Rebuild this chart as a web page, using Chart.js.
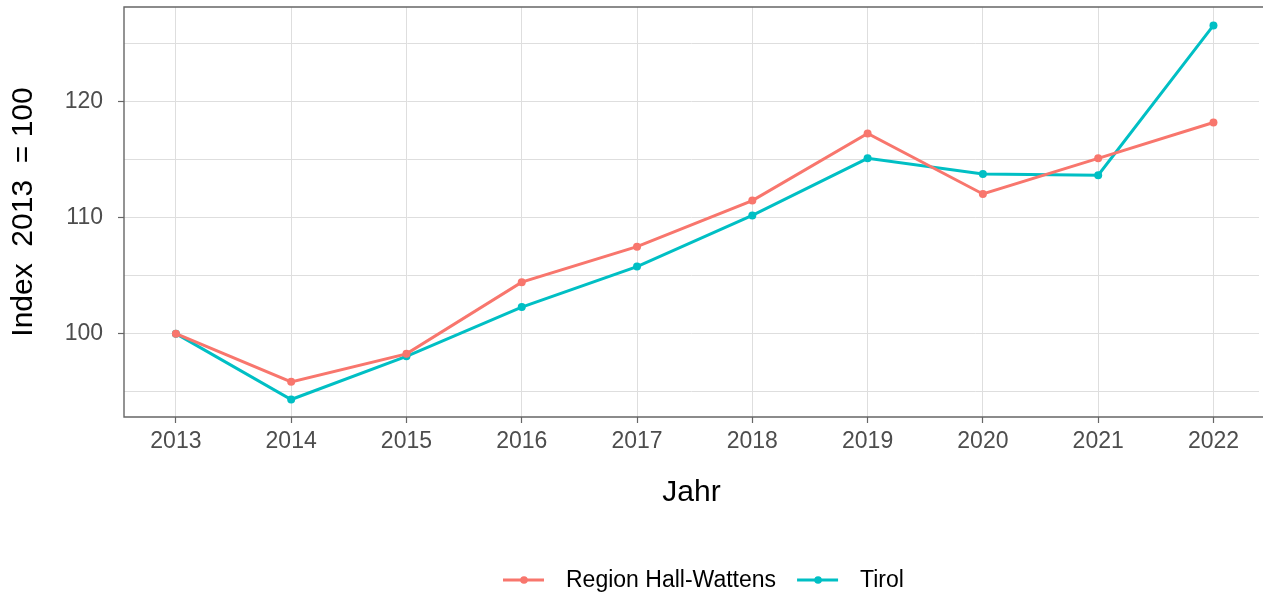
<!DOCTYPE html>
<html>
<head>
<meta charset="utf-8">
<script src="https://cdn.jsdelivr.net/npm/chart.js@4"></script>
<style>
html,body{margin:0;padding:0;background:#fff;}
canvas{display:block;}
</style>
</head>
<body>
<canvas id="c" width="1263" height="596"></canvas>
<script>
const years = [2013, 2014, 2015, 2016, 2017, 2018, 2019, 2020, 2021, 2022];
const hallWattens = [100, 95.85, 98.26, 104.44, 107.5, 111.47, 117.26, 112.04, 115.11, 118.2];
const tirol = [100, 94.33, 98.05, 102.29, 105.78, 110.19, 115.11, 113.76, 113.65, 126.56];
const yTicks = [95, 100, 105, 110, 115, 120, 125];
const yLabels = [100, 110, 120];
const seriesNames = ['Region Hall-Wattens', 'Tirol'];
const seriesColors = ['#F8766D', '#00BFC4'];

const FONT = 'Liberation Sans, Arial, sans-serif';
const AXIS_COL = '#666666';
const GRID_COL = '#DEDEDE';

const toPoints = vals => years.map((y, i) => ({x: y, y: vals[i]}));

const borderPlugin = {
  id: 'panelBorder',
  afterDatasetsDraw(chart) {
    const {ctx, chartArea: a} = chart;
    ctx.save();
    ctx.strokeStyle = AXIS_COL;
    ctx.lineWidth = 1.4;
    ctx.beginPath();
    ctx.moveTo(chart.width + 2, a.top);
    ctx.lineTo(a.left, a.top);
    ctx.lineTo(a.left, a.bottom);
    ctx.lineTo(chart.width + 2, a.bottom);
    ctx.stroke();
    ctx.restore();
  }
};

const legendPlugin = {
  id: 'customLegend',
  afterDraw(chart) {
    const {ctx} = chart;
    ctx.save();
    ctx.font = '23px ' + FONT;
    ctx.textBaseline = 'middle';
    ctx.textAlign = 'left';
    let x = 503;
    const y = 580;
    chart.data.datasets.forEach((ds, i) => {
      ctx.strokeStyle = ds.borderColor;
      ctx.lineWidth = 3;
      ctx.beginPath();
      ctx.moveTo(x, y);
      ctx.lineTo(x + 41, y);
      ctx.stroke();
      ctx.fillStyle = ds.borderColor;
      ctx.beginPath();
      ctx.arc(x + 21, y, 3.8, 0, Math.PI * 2);
      ctx.fill();
      ctx.fillStyle = '#000';
      ctx.fillText(ds.label, x + 63, y + 1);
      x += 63 + ctx.measureText(ds.label).width + 21;
    });
    ctx.restore();
  }
};

new Chart(document.getElementById('c'), {
  type: 'line',
  data: {
    datasets: [
      {label: seriesNames[0], data: toPoints(hallWattens), borderColor: seriesColors[0], backgroundColor: seriesColors[0]},
      {label: seriesNames[1], data: toPoints(tirol), borderColor: seriesColors[1], backgroundColor: seriesColors[1]}
    ]
  },
  options: {
    responsive: false,
    animation: false,
    layout: {padding: {left: 0, right: 0, top: 7, bottom: 60}},
    elements: {
      line: {borderWidth: 3, tension: 0},
      point: {radius: 4, borderWidth: 0, hoverRadius: 4}
    },
    plugins: {legend: {display: false}, tooltip: {enabled: false}},
    scales: {
      x: {
        type: 'linear',
        min: 2012.55,
        max: 2022.395,
        afterBuildTicks: s => { s.ticks = years.map(v => ({value: v})); },
        afterFit: s => { s.height = 119; s.paddingLeft = 0; s.paddingRight = 0; },
        grid: {color: GRID_COL, lineWidth: 1, tickLength: 6, tickColor: AXIS_COL, tickWidth: 1.2},
        border: {display: false},
        ticks: {color: '#4D4D4D', font: {family: FONT, size: 23}, padding: 5, maxRotation: 0, autoSkip: false,
                callback: v => String(v)},
        title: {display: true, text: 'Jahr', color: '#000', font: {family: FONT, size: 30}, padding: {top: 0, bottom: 25}}
      },
      y: {
        type: 'linear',
        min: 92.82,
        max: 128.15,
        afterBuildTicks: s => { s.ticks = yTicks.map(v => ({value: v})); },
        afterFit: s => { s.width = 124; s.paddingTop = 0; s.paddingBottom = 0; },
        grid: {color: GRID_COL, lineWidth: 1, tickLength: 6, tickWidth: 1.2,
               tickColor: c => (c.tick && yLabels.includes(c.tick.value)) ? AXIS_COL : 'rgba(0,0,0,0)'},
        border: {display: false},
        ticks: {color: '#4D4D4D', font: {family: FONT, size: 23}, padding: 15, autoSkip: false,
                callback: v => yLabels.includes(v) ? String(v) : ''},
        title: {display: true, text: 'Index  2013  = 100', color: '#000', font: {family: FONT, size: 30}, padding: {top: 6, bottom: 0}}
      }
    }
  },
  plugins: [borderPlugin, legendPlugin]
});
</script>
</body>
</html>
